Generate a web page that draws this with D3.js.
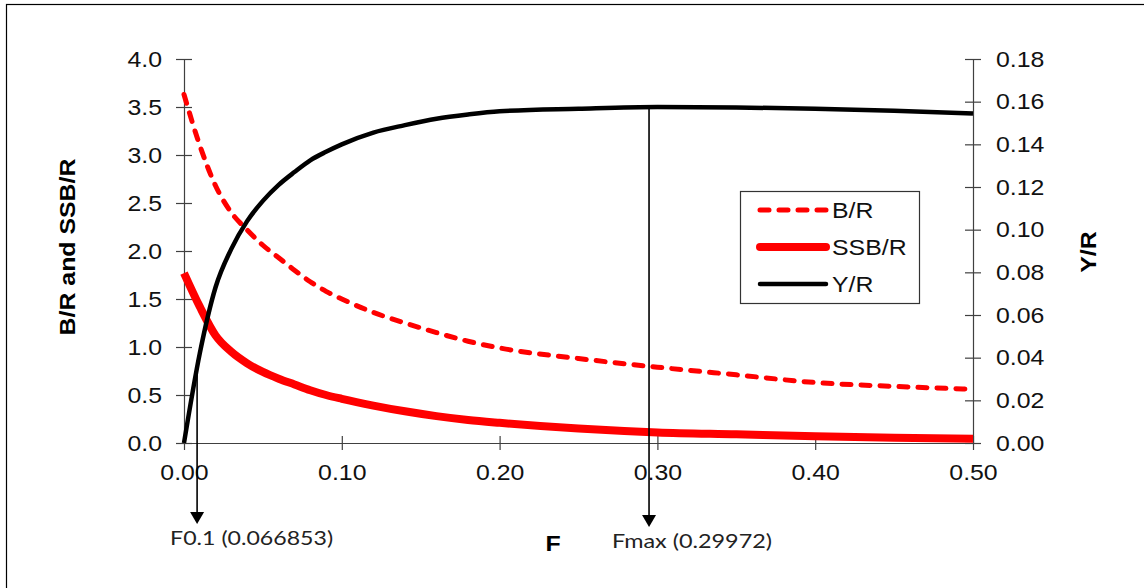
<!DOCTYPE html>
<html>
<head>
<meta charset="utf-8">
<script src="https://cdn.jsdelivr.net/npm/d3@7"></script>
<style>
  html, body { margin: 0; padding: 0; background: #fff; }
  svg { display: block; }
  .arial { font-family: "Liberation Sans", Arial, sans-serif; }
</style>
</head>
<body>
<svg id="chart" width="1144" height="588"></svg>
<script>
// ---------------- data ----------------
const fValues = [0, 0.01, 0.02, 0.03, 0.04, 0.05, 0.06, 0.07, 0.08, 0.09, 0.10,
                 0.12, 0.14, 0.16, 0.18, 0.20, 0.25, 0.30, 0.35, 0.40, 0.45, 0.50];
const bPerR   = [3.63, 3.10, 2.68, 2.40, 2.22, 2.06, 1.93, 1.80, 1.68, 1.58, 1.50,
                 1.36, 1.25, 1.15, 1.06, 0.99, 0.88, 0.79, 0.71, 0.63, 0.59, 0.56];
const ssbPerR = [1.77, 1.42, 1.12, 0.95, 0.83, 0.74, 0.67, 0.61, 0.55, 0.50, 0.46,
                 0.39, 0.33, 0.28, 0.24, 0.21, 0.15, 0.11, 0.09, 0.07, 0.055, 0.045];
const yPerR   = [0, 0.042, 0.073, 0.091, 0.104, 0.1135, 0.121, 0.127, 0.1325, 0.1365, 0.140,
                 0.1455, 0.149, 0.152, 0.154, 0.1555, 0.1567, 0.1575, 0.1573, 0.1567, 0.1557, 0.1545];

const seriesNames = ["B/R", "SSB/R", "Y/R"];
const leftTicks  = [0, 0.5, 1.0, 1.5, 2.0, 2.5, 3.0, 3.5, 4.0];
const rightTicks = [0, 0.02, 0.04, 0.06, 0.08, 0.10, 0.12, 0.14, 0.16, 0.18];
const xTicks     = [0, 0.1, 0.2, 0.3, 0.4, 0.5];

const annotF      = [0.0083, 0.2947];
const annotYR     = [0.037, 0.1575];
const annotLabels = ["F0.1 (0.066853)", "Fmax (0.29972)"];

// ---------------- layout ----------------
const svg = d3.select("#chart");
const X0 = 184, X1 = 973, Y0 = 443, Y1 = 59;
const x  = d3.scaleLinear().domain([0, 0.5]).range([X0, X1]);
const yL = d3.scaleLinear().domain([0, 4]).range([Y0, Y1]);
const yR = d3.scaleLinear().domain([0, 0.18]).range([Y0, Y1]);
const axisColor = "#404040";

// outer frame (only left/top visible in reference)
svg.append("rect").attr("x", 6.5).attr("y", 4.5).attr("width", 1160).attr("height", 600)
  .attr("fill", "#fff").attr("stroke", "#000").attr("stroke-width", 1.2);

// axes
function styleAxis(g) {
  g.select(".domain").attr("stroke", axisColor).attr("stroke-width", 1.2);
  g.selectAll(".tick line").attr("stroke", axisColor).attr("stroke-width", 1.2);
  g.selectAll(".tick text").attr("class", "arial").attr("font-size", 22).attr("fill", "#111");
  g.attr("font-family", null).attr("font-size", null);
}

const gL = svg.append("g").attr("transform", `translate(${X0},0)`)
  .call(d3.axisLeft(yL).tickValues(leftTicks).tickFormat(d3.format(".1f"))
        .tickSize(8).tickPadding(14).tickSizeOuter(0));
gL.selectAll(".tick line").attr("x1", 8);
styleAxis(gL);

const gR = svg.append("g").attr("transform", `translate(${X1},0)`)
  .call(d3.axisRight(yR).tickValues(rightTicks).tickFormat(d3.format(".2f"))
        .tickSize(8).tickPadding(15).tickSizeOuter(0));
gR.selectAll(".tick line").attr("x1", -8);
styleAxis(gR);

const gB = svg.append("g").attr("transform", `translate(0,${Y0})`)
  .call(d3.axisBottom(x).tickValues(xTicks).tickFormat(d3.format(".2f"))
        .tickSize(7).tickPadding(14).tickSizeOuter(0));
gB.selectAll(".tick line").attr("y1", -7);
styleAxis(gB);

// axis titles
svg.append("text").attr("class", "arial title")
  .attr("transform", "translate(75,247) rotate(-90)")
  .attr("text-anchor", "middle").attr("font-size", 22).attr("font-weight", "bold")
  .text("B/R and SSB/R");
svg.append("text").attr("class", "arial title")
  .attr("transform", "translate(1096,252) rotate(-90)")
  .attr("text-anchor", "middle").attr("font-size", 22).attr("font-weight", "bold")
  .text("Y/R");
svg.append("text").attr("class", "arial title")
  .attr("x", 553).attr("y", 551)
  .attr("text-anchor", "middle").attr("font-size", 22).attr("font-weight", "bold")
  .text("F");

// series
const rows = fValues.map((f, i) => ({ f, b: bPerR[i], s: ssbPerR[i], y: yPerR[i] }));
const lineB = d3.line().x(d => x(d.f)).y(d => yL(d.b)).curve(d3.curveMonotoneX);
const lineS = d3.line().x(d => x(d.f)).y(d => yL(d.s)).curve(d3.curveMonotoneX);
const lineY = d3.line().x(d => x(d.f)).y(d => yR(d.y)).curve(d3.curveMonotoneX);

const styles = [
  { stroke: "#ff0000", width: 5,   dash: "9,10" },
  { stroke: "#ff0000", width: 8,   dash: null },
  { stroke: "#000000", width: 4.5, dash: null }
];

svg.append("path").datum(rows).attr("d", lineB).attr("fill", "none")
  .attr("stroke", styles[0].stroke).attr("stroke-width", styles[0].width)
  .attr("stroke-dasharray", styles[0].dash).attr("stroke-linecap", "round");
svg.append("path").datum(rows).attr("d", lineS).attr("fill", "none")
  .attr("stroke", styles[1].stroke).attr("stroke-width", styles[1].width)
  .attr("stroke-linejoin", "round");
svg.append("path").datum(rows).attr("d", lineY).attr("fill", "none")
  .attr("stroke", styles[2].stroke).attr("stroke-width", styles[2].width)
  .attr("stroke-linejoin", "round");

// annotations (arrows)
const tipY = [524, 527];
const labelDx = [-27, -37];
const labelY = [545, 548];
const labelLen = [163, 160];
annotF.forEach((f, i) => {
  const ax = x(f);
  const top = yR(annotYR[i]);
  svg.append("line").attr("x1", ax).attr("x2", ax).attr("y1", top).attr("y2", tipY[i] - 10)
    .attr("stroke", "#000").attr("stroke-width", 1.6);
  svg.append("path")
    .attr("d", `M${ax - 7},${tipY[i] - 12} L${ax + 7},${tipY[i] - 12} L${ax},${tipY[i]} Z`)
    .attr("fill", "#000");
  svg.append("text").attr("x", ax + labelDx[i]).attr("y", labelY[i])
    .attr("font-family", "Lato, 'Open Sans', sans-serif").attr("font-size", 20)
    .attr("fill", "#222")
    .attr("textLength", labelLen[i]).attr("lengthAdjust", "spacingAndGlyphs")
    .text(annotLabels[i]);
});

// legend
const lg = svg.append("g");
lg.append("rect").attr("x", 740.5).attr("y", 191.5).attr("width", 179).attr("height", 112)
  .attr("fill", "#fff").attr("stroke", "#333").attr("stroke-width", 1.2);
const legendY = [210, 247, 284];
seriesNames.forEach((name, i) => {
  lg.append("line").attr("x1", 760).attr("x2", 826).attr("y1", legendY[i]).attr("y2", legendY[i])
    .attr("stroke", styles[i].stroke).attr("stroke-width", styles[i].width)
    .attr("stroke-dasharray", styles[i].dash).attr("stroke-linecap", "round");
  lg.append("text").attr("class", "arial").attr("x", 832).attr("y", legendY[i])
    .attr("dy", "0.36em").attr("font-size", 22).attr("fill", "#111").text(name);
});

// widen Arial-like text to match reference glyph widths
svg.selectAll("text.arial").each(function () {
  const len = this.getComputedTextLength();
  d3.select(this).attr("textLength", len * 1.13).attr("lengthAdjust", "spacingAndGlyphs");
});
</script>
</body>
</html>
